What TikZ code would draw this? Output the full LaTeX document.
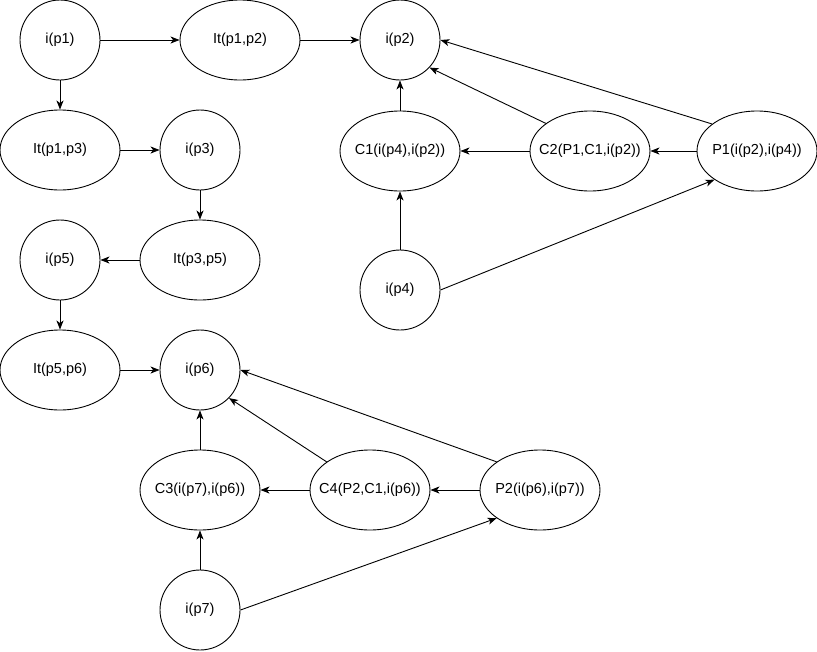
\documentclass[tikz,border=0pt]{standalone}
\usepackage{fontspec}
\setmainfont{Liberation Sans}
\usetikzlibrary{shapes.geometric,arrows.meta}
\newcommand{\zw}[1]{\makebox[0pt][c]{#1}}
\begin{document}
\begin{tikzpicture}[x=1pt,y=-1pt,
  every node/.style={font=\fontsize{14.5}{17}\selectfont, inner sep=0pt},
  circ/.style={draw, line width=0.9pt, circle, minimum size=80pt},
  ell/.style={draw, line width=0.9pt, ellipse, minimum width=120pt, minimum height=80pt},
  conn/.style={line width=0.9pt, -{Stealth[length=9pt,width=7pt,inset=2.5pt]}}]
\useasboundingbox (0,0) rectangle (817,651);
% top-left chain
\node[circ] (ip1) at (60,40) {i(p1)};
\node[ell] (it12) at (240,40) {\zw{It(p1,p2)}};
\node[circ] (ip2) at (400,40) {i(p2)};
\node[ell] (it13) at (60,150) {\zw{It(p1,p3)}};
\node[circ] (ip3) at (200,150) {i(p3)};
\node[ell] (it35) at (200,260) {\zw{It(p3,p5)}};
\node[circ] (ip5) at (60,260) {i(p5)};
\node[ell] (it56) at (60,370) {\zw{It(p5,p6)}};
\node[circ] (ip6) at (200,370) {i(p6)};
% top-right cluster
\node[ell] (C1) at (400,151) {\zw{C1(i(p4),i(p2))}};
\node[ell] (C2) at (590,151) {\zw{C2(P1,C1,i(p2))}};
\node[ell] (P1) at (757,151) {\zw{P1(i(p2),i(p4))}};
\node[circ] (ip4) at (400,290) {i(p4)};
% bottom cluster
\node[ell] (C3) at (200,490) {\zw{C3(i(p7),i(p6))}};
\node[ell] (C4) at (370,490) {\zw{C4(P2,C1,i(p6))}};
\node[ell] (P2) at (540,490) {\zw{P2(i(p6),i(p7))}};
\node[circ] (ip7) at (200,610) {i(p7)};
% chain edges
\draw[conn] (ip1) -- (it12);
\draw[conn] (it12) -- (ip2);
\draw[conn] (ip1) -- (it13);
\draw[conn] (it13) -- (ip3);
\draw[conn] (ip3) -- (it35);
\draw[conn] (it35) -- (ip5);
\draw[conn] (ip5) -- (it56);
\draw[conn] (it56) -- (ip6);
% top-right edges
\draw[conn] (C1) -- (ip2);
\draw[conn] (C2.148) -- (ip2.-43);
\draw[conn] (P1.149) -- (ip2.east);
\draw[conn] (C2) -- (C1);
\draw[conn] (P1) -- (C2);
\draw[conn] (ip4) -- (C1);
\draw[conn] (ip4.east) -- (P1.214);
% bottom edges
\draw[conn] (C3) -- (ip6);
\draw[conn] (C4.147) -- (ip6.-44);
\draw[conn] (P2.147) -- (ip6.east);
\draw[conn] (C4) -- (C3);
\draw[conn] (P2) -- (C4);
\draw[conn] (ip7) -- (C3);
\draw[conn] (ip7.east) -- (P2.213);
\end{tikzpicture}
\end{document}
